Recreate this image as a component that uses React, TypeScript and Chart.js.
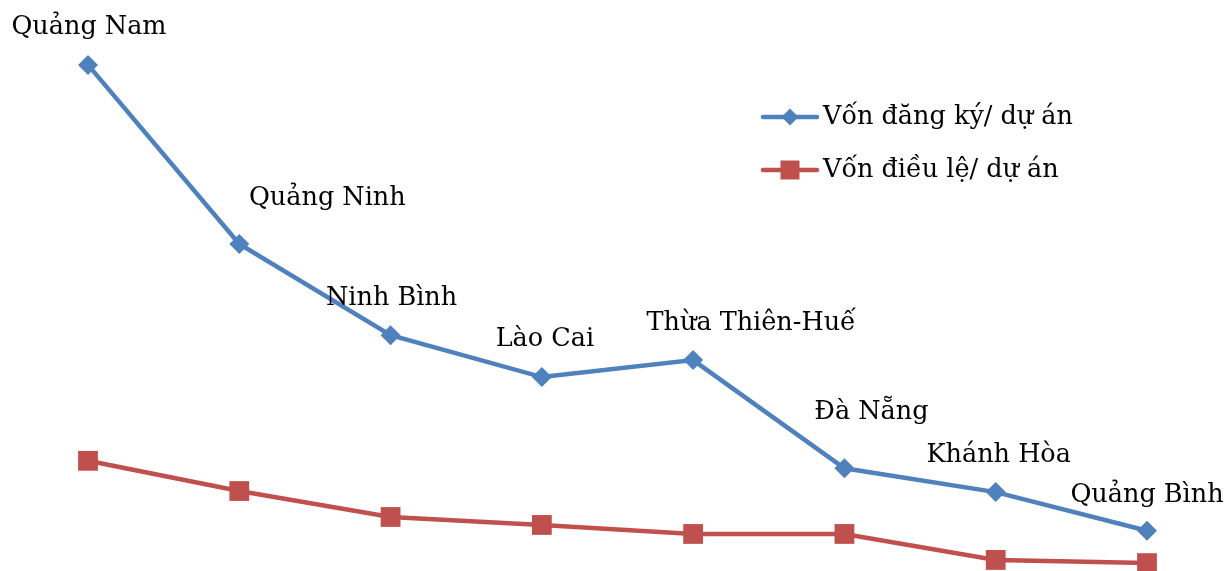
import React, { useEffect, useRef } from "react";
import { Chart, registerables } from "chart.js";

Chart.register(...registerables);

// Provinces (category axis)
const provinces = [
  "Quảng Nam",
  "Quảng Ninh",
  "Ninh Bình",
  "Lào Cai",
  "Thừa Thiên-Huế",
  "Đà Nẵng",
  "Khánh Hòa",
  "Quảng Bình",
];

// Registered capital per project
const registeredPerProject = [95.3, 61.5, 44.3, 36.4, 39.6, 19.2, 14.7, 7.4];

// Charter capital per project
const charterPerProject = [20.6, 14.9, 10.0, 8.5, 6.8, 6.8, 1.9, 1.3];

const seriesNames = ["Vốn đăng ký/ dự án", "Vốn điều lệ/ dự án"];

const BLUE = "#4F81BD";
const RED = "#C0504D";
const FONT = "25.5px 'DejaVu Serif', 'Liberation Serif', serif";

// Nudges for the province labels above the blue markers (dx, dy in px)
const labelShift: [number, number][] = [
  [1, 38],
  [88, 46],
  [1, 37],
  [3, 38],
  [58, 37],
  [27, 56],
  [3, 37],
  [0, 35],
];

const provinceLabels = {
  id: "provinceLabels",
  afterDatasetsDraw(chart: any) {
    const ctx = chart.ctx;
    const meta = chart.getDatasetMeta(0);
    ctx.save();
    ctx.font = FONT;
    ctx.fillStyle = "#000";
    ctx.textAlign = "center";
    ctx.textBaseline = "middle";
    meta.data.forEach((pt: any, i: number) => {
      const [dx, dy] = labelShift[i] || [0, 37];
      ctx.fillText(provinces[i], pt.x + dx, pt.y - dy);
    });
    ctx.restore();
  },
};

const insideLegend = {
  id: "insideLegend",
  afterDraw(chart: any) {
    const ctx = chart.ctx;
    const x0 = 763;
    const x1 = 817;
    const mx = 790;
    const rows = [117, 170];
    ctx.save();
    chart.data.datasets.forEach((ds: any, i: number) => {
      const y = rows[i];
      ctx.strokeStyle = ds.borderColor;
      ctx.lineWidth = 4.5;
      ctx.lineCap = "round";
      ctx.beginPath();
      ctx.moveTo(x0, y);
      ctx.lineTo(x1, y);
      ctx.stroke();
      ctx.fillStyle = ds.pointBackgroundColor;
      ctx.beginPath();
      if (ds.pointStyle === "rectRot") {
        const r = 8.5;
        ctx.moveTo(mx, y - r);
        ctx.lineTo(mx + r, y);
        ctx.lineTo(mx, y + r);
        ctx.lineTo(mx - r, y);
        ctx.closePath();
      } else {
        ctx.rect(mx - 9.5, y - 9.5, 19, 19);
      }
      ctx.fill();
      ctx.font = FONT;
      ctx.fillStyle = "#000";
      ctx.textAlign = "left";
      ctx.textBaseline = "middle";
      ctx.fillText(ds.label, 823, y);
    });
    ctx.restore();
  },
};

export default function App() {
  const ref = useRef<HTMLCanvasElement | null>(null);

  useEffect(() => {
    if (!ref.current) return;
    const chart = new Chart(ref.current, {
      type: "line",
      data: {
        labels: provinces,
        datasets: [
          {
            label: seriesNames[0],
            data: registeredPerProject,
            borderColor: BLUE,
            backgroundColor: BLUE,
            pointBackgroundColor: BLUE,
            pointBorderColor: BLUE,
            borderWidth: 4.5,
            pointStyle: "rectRot",
            pointRadius: 10,
            pointBorderWidth: 0,
            tension: 0,
            clip: false as any,
          },
          {
            label: seriesNames[1],
            data: charterPerProject,
            borderColor: RED,
            backgroundColor: RED,
            pointBackgroundColor: RED,
            pointBorderColor: RED,
            borderWidth: 4.5,
            pointStyle: "rect",
            pointRadius: 14,
            pointBorderWidth: 0,
            tension: 0,
            clip: false as any,
          },
        ],
      },
      options: {
        responsive: false,
        animation: false,
        layout: {
          autoPadding: false,
          padding: { left: 88, right: 84, top: 40, bottom: 1 },
        },
        plugins: {
          legend: { display: false },
          tooltip: { enabled: false },
        },
        scales: {
          x: { display: false, offset: false },
          y: { display: false, min: 0, max: 100 },
        },
      },
      plugins: [provinceLabels, insideLegend],
    });
    return () => chart.destroy();
  }, []);

  return (
    <div
      style={{
        position: "fixed",
        left: 0,
        top: 0,
        width: 1231,
        height: 571,
        background: "#fff",
      }}
    >
      <canvas ref={ref} width={1231} height={571} />
    </div>
  );
}
